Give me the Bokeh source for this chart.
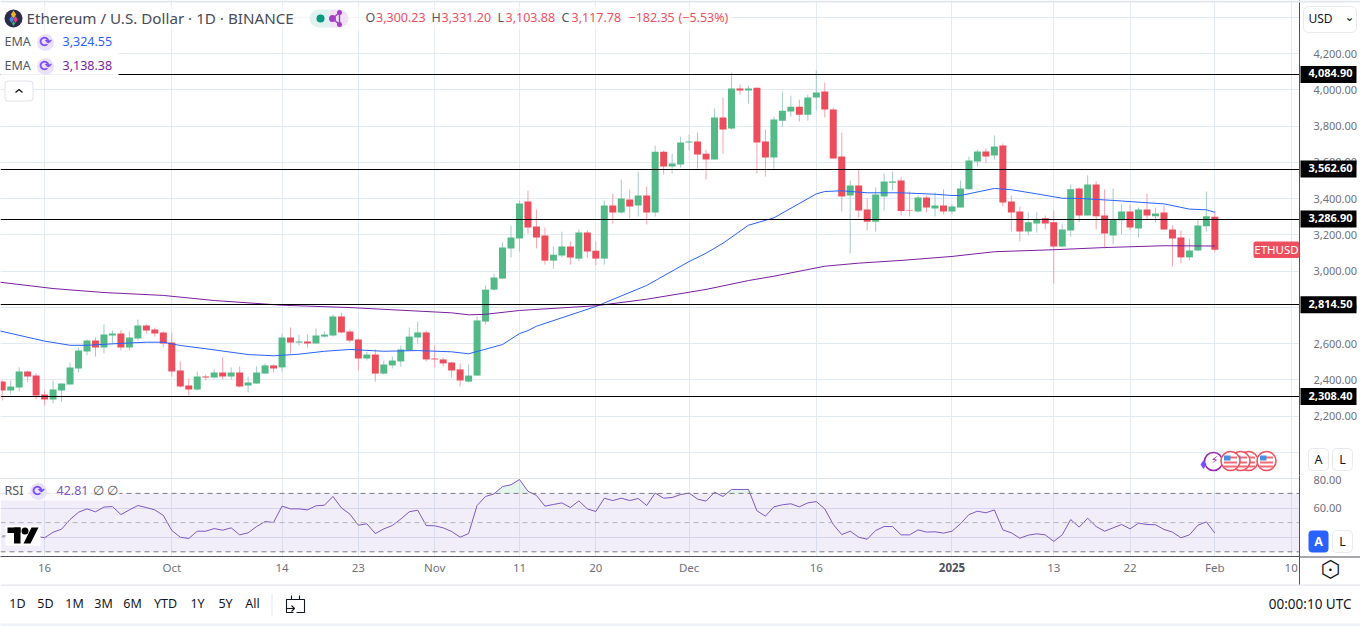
from bokeh.plotting import figure
from bokeh.layouts import column
from bokeh.models import Range1d, FixedTicker, Label, BoxAnnotation, Span, NumeralTickFormatter, Spacer
from bokeh.embed import file_html
from bokeh.resources import INLINE

FONT = "Noto Sans"
SYM = "DejaVu Sans"

# ---------- data: daily candles, 11 Sep 2024 .. 1 Feb 2025 ----------
opens = [2391,2342,2358,2446,2424,2320,2292,2342,2375,2463,2557,2617,2579,2645,2656,2579,2628,2700,2678,2662,
 2606,2452,2369,2347,2419,2413,2441,2419,2441,2369,2380,2435,2480,2469,2634,2606,2612,2601,2639,2645,2750,2667,2623,2518,2540,2435,2480,2502,2562,2634,2662,
 2518,2513,2496,2458,2391,2424,2722,2898,2959,3125,3180,3384,3246,3196,3058,3086,3136,3069,3213,3113,3069,3362,3323,3395,3362,3417,3323,3659,3577,3588,
 3709,3715,3648,3615,3847,3786,4007,3996,4012,3715,3626,3830,3880,3907,3863,3957,3990,3891,3632,3417,3472,3340,3273,3411,3488,3500,3335,3329,3406,3346,3362,
 3329,3351,3451,3605,3660,3638,3693,3384,3329,3219,3263,3291,3269,3136,3224,3456,3307,3478,3307,3197,3280,3329,3235,3340,3302,3324,3230,3186,3076,3114,3247,
 3300.23]
highs = [2397,2397,2469,2452,2435,2342,2397,2380,2496,2579,2623,2634,2706,2673,2673,2667,2733,2706,2689,2667,
 2662,2502,2408,2446,2430,2458,2524,2469,2474,2419,2474,2491,2485,2656,2689,2650,2650,2684,2667,2761,2772,2678,2628,2557,2568,2507,2529,2590,2689,2722,2673,
 2590,2524,2500,2491,2485,2750,2921,2987,3158,3251,3389,3444,3340,3240,3136,3218,3163,3229,3224,3163,3389,3428,3505,3450,3549,3466,3692,3665,3648,3742,
 3753,3764,3670,3896,3957,4095,4029,4023,4012,3781,3852,3990,3968,3946,3974,4106,4040,3902,3764,3499,3560,3400,3461,3538,3549,3517,3439,3417,3417,3434,3451,
 3371,3500,3632,3671,3677,3748,3704,3417,3357,3324,3324,3307,3335,3258,3478,3462,3528,3495,3451,3456,3368,3368,3351,3428,3351,3362,3252,3224,3180,3285,3439,
 3331.20]
lows = [2287,2320,2336,2386,2292,2259,2270,2281,2375,2441,2535,2529,2546,2595,2562,2562,2617,2656,2639,2579,
 2419,2358,2314,2342,2397,2408,2402,2402,2358,2331,2380,2435,2441,2446,2546,2590,2579,2601,2634,2639,2656,2606,2452,2507,2391,2430,2463,2474,2562,2601,2502,
 2469,2474,2413,2364,2386,2424,2705,2893,2959,3075,3108,3207,3125,3036,3014,3075,3036,3053,3075,3031,3036,3262,3317,3290,3301,3257,3301,3533,3538,3571,
 3665,3566,3505,3615,3648,3781,3974,3924,3538,3522,3566,3797,3852,3825,3830,3885,3847,3621,3329,3097,3295,3224,3218,3334,3444,3307,3302,3324,3324,3302,3313,
 3313,3351,3451,3577,3594,3616,3357,3219,3164,3197,3213,3230,2932,3131,3191,3269,3307,3230,3125,3147,3202,3224,3186,3280,3269,3230,3026,3043,3059,3109,3219,
 3103.88]
closes = [2342,2364,2446,2419,2314,2292,2347,2380,2469,2562,2617,2579,2650,2656,2579,2634,2700,2673,2656,2601,
 2446,2364,2347,2419,2413,2441,2419,2441,2364,2386,2441,2480,2463,2634,2606,2612,2601,2645,2650,2750,2662,2617,2518,2540,2435,2485,2507,2568,2639,2662,2513,
 2513,2491,2452,2397,2424,2728,2898,2965,3130,3185,3373,3240,3185,3058,3091,3136,3075,3213,3108,3069,3362,3323,3400,3356,3417,3323,3659,3577,3593,3709,
 3715,3643,3615,3847,3781,4007,3996,4007,3709,3626,3836,3885,3907,3863,3957,3985,3891,3621,3411,3472,3334,3273,3422,3494,3494,3331,3331,3406,3351,3362,3329,
 3357,3456,3610,3660,3632,3688,3379,3324,3219,3269,3285,3263,3136,3230,3451,3307,3478,3302,3208,3285,3329,3241,3340,3307,3318,3230,3180,3076,3114,3252,3302,
 3117.78]
assert len(opens) == len(highs) == len(lows) == len(closes) == 144, (len(opens), len(highs), len(lows), len(closes))

ema50_days = [-1,5,8,10,13,17,19,21,24,29,32,35,38,41,45,49,53,55,56,59,61,62,63,70,76,81,83,85,88,91,96,97,99,102,106,110,112,113,117,119,122,125,127,131,135,137,140,142,143]
ema50_vals = [2678,2614,2591,2591,2599,2608,2608,2590,2572,2540,2533,2542,2558,2568,2558,2562,2555,2544,2557,2595,2656,2672,2696,2805,2921,3053,3099,3154,3253,3294,3426,3439,3443,3432,3432,3424,3417,3417,3456,3449,3426,3402,3401,3390,3377,3371,3342,3338,3324.55]
ema200_days = [-1,6,12,19,25,33,41,53,55,57,61,70,76,83,88,91,97,101,106,112,117,124,130,137,143]
ema200_vals = [2943,2904,2882,2866,2838,2812,2799,2770,2759,2762,2783,2809,2845,2899,2948,2972,3027,3044,3059,3081,3107,3118,3130,3140,3138.38]

rsi = [40.7,41.2,43.4,41.8,40.7,39.6,43.4,45.5,52.1,57.1,59.4,57.4,60.6,61.0,55.5,58.7,61.7,60.3,58.7,54.9,
 44.6,40.0,39.1,44.1,44.1,45.9,44.8,46.4,41.6,43.0,47.3,50.7,50.1,61.3,59.4,59.4,58.7,61.5,61.9,67.9,60.1,55.8,48.2,49.2,42.5,45.7,48.0,52.4,57.4,58.5,48.0,
 47.8,46.4,43.9,40.0,42.5,61.7,67.9,69.7,74.7,75.9,79.5,71.5,68.6,61.3,62.4,63.5,60.3,64.9,59.4,57.6,66.7,65.1,66.7,65.1,66.5,61.7,70.2,66.7,67.2,69.2,
 70.2,66.1,64.7,70.8,67.9,72.7,72.7,72.7,58.1,54.4,60.8,62.2,62.9,60.8,63.5,64.4,59.4,48.7,41.8,44.1,40.0,38.6,44.6,47.3,47.3,41.6,41.6,45.0,43.5,43.7,42.8,
 44.1,49.2,55.5,57.8,56.7,58.7,45.0,43.0,39.3,41.4,42.3,41.6,37.1,41.6,52.1,46.9,53.0,47.3,44.1,46.4,48.7,45.7,49.6,48.7,48.5,45.3,43.5,39.6,41.6,48.2,50.5,
 42.81]
assert len(rsi) == 144, len(rsi)

hlines = [4084.90, 3562.60, 3286.90, 2814.50, 2308.40]
price_ticks = [4200,4000,3800,3600,3400,3200,3000,2800,2600,2400,2200]
price_grid = [4400] + price_ticks + [2000]
rsi_ticks = [80, 60]
rsi_grid = [80, 60, 40]
date_ticks = {5:"16",20:"Oct",33:"14",42:"23",51:"Nov",61:"11",70:"20",81:"Dec",96:"16",112:"",124:"13",133:"22",143:"Feb",152:"10"}
ranges_btn = [("1D",17),("5D",45),("1M",74),("3M",103),("6M",132),("YTD",165),("1Y",197),("5Y",225),("All",252)]

GRID = "#e2ebf1"
UP, DOWN = "#53b987", "#eb4d5c"
UPW, DOWNW = "#a3ccc9", "#f5a3ad"
AXISC = "#50535e"
TXT = "#6f727d"
DARK = "#131722"
days = list(range(len(opens)))
XR = (-0.2, 152.98)

def make(h, yrange, bottom=0):
    return figure(width=1360, height=h, x_range=Range1d(*XR), y_range=Range1d(*yrange),
                  output_backend="svg", toolbar_location=None, y_axis_location="right",
                  x_axis_location="below" if bottom else None,
                  min_border_left=0, min_border_right=61, min_border_top=0, min_border_bottom=bottom,
                  outline_line_color=None, background_fill_color="white", border_fill_color="white")

# transparent sheet over the whole page for the window furniture (measured in page pixels)
ov = figure(width=1360, height=626, x_range=Range1d(0, 1360), y_range=Range1d(626, 0),
            output_backend="svg", toolbar_location=None, x_axis_location=None, y_axis_location=None,
            min_border=0, outline_line_color=None, background_fill_color=None, border_fill_color=None,
            frame_align=False, styles={"position": "absolute", "left": "0px", "top": "0px"})
ov.grid.visible = False

def lab(x, y, text, size=12.5, color=DARK, align="left", font=FONT, style="normal"):
    ov.add_layout(Label(x=x, y=y - 1, text=text, text_font=font, text_font_size=f"{size}px", text_color=color,
                        text_align=align, text_baseline="middle", text_font_style=style))

def box(x0, y0, x1, y1, fill="white", alpha=1.0, line=None, radius=0):
    ov.add_layout(BoxAnnotation(left=x0, right=x1, top=y0, bottom=y1,
                                fill_color=fill, fill_alpha=alpha, line_color=line or "white",
                                line_alpha=1.0 if line else 0, border_radius=radius))

def dot(x, y, size, fill, line=None, marker="circle", lw=1):
    ov.scatter([x], [y], size=size, marker=marker, fill_color=fill, line_color=line, line_width=lw)

def pline(xs, ys, color, lw=1):
    ov.line(xs, ys, line_color=color, line_width=lw)

def rect(l, t, r, b, color, alpha=1.0):
    ov.quad(left=[l], right=[r], top=[t], bottom=[b], fill_color=color, fill_alpha=alpha, line_color=None)

# ---------- main price pane ----------
PMIN, PMAX = 1872.9, 4492.5
main = make(475, (PMIN, PMAX))
main.xgrid.ticker = FixedTicker(ticks=list(date_ticks))
main.ygrid.ticker = FixedTicker(ticks=price_grid)
main.xgrid.grid_line_color = GRID
main.ygrid.grid_line_color = GRID
ax = main.yaxis[0]
ax.ticker = FixedTicker(ticks=price_ticks)
ax.formatter = NumeralTickFormatter(format="0,0.00")
ax.major_tick_line_color = None
ax.minor_tick_line_color = None
ax.axis_line_color = AXISC
ax.major_label_text_color = TXT
ax.major_label_text_font = FONT
ax.major_label_text_font_size = "11px"
ax.major_label_standoff = 8

body_top = [max(a, b) for a, b in zip(opens, closes)]
body_bot = [min(a, b) for a, b in zip(opens, closes)]
up = [c >= o for o, c in zip(opens, closes)]
main.segment(days, highs, days, lows, line_width=1, line_color=[UPW if u else DOWNW for u in up])
main.vbar(days, top=body_top, bottom=body_bot, width=0.825, line_color=None,
          fill_color=[UP if u else DOWN for u in up])
main.line(ema50_days, ema50_vals, line_color="#2962ff", line_width=1)
main.line(ema200_days, ema200_vals, line_color="#7b1fa2", line_width=1)
main.hspan(y=hlines, line_color="black", line_width=1)

yp = lambda v: (PMAX - v) / 5.515

# ---------- RSI pane ----------
R_TOP = 60 + (507.5 - 475) / 1.46
R_BOT = 60 - (556 - 507.5) / 1.46
rp = make(109, (R_BOT, R_TOP), bottom=28)
rp.xgrid.ticker = FixedTicker(ticks=list(date_ticks))
rp.ygrid.ticker = FixedTicker(ticks=rsi_grid)
rp.xgrid.grid_line_color = GRID
rp.ygrid.grid_line_color = "#dfe3ef"
ry = rp.yaxis[0]
ry.ticker = FixedTicker(ticks=rsi_ticks)
ry.formatter = NumeralTickFormatter(format="0.00")
ry.major_tick_line_color = None
ry.minor_tick_line_color = None
ry.axis_line_color = AXISC
ry.major_label_text_color = TXT
ry.major_label_text_font = FONT
ry.major_label_text_font_size = "11px"
ry.major_label_standoff = 8
rx = rp.xaxis[0]
rx.ticker = FixedTicker(ticks=list(date_ticks))
rx.major_label_overrides = {k: v for k, v in date_ticks.items()}
rx.major_tick_line_color = None
rx.minor_tick_line_color = None
rx.axis_line_color = AXISC
rx.major_label_text_color = TXT
rx.major_label_text_font = FONT
rx.major_label_text_font_size = "11.5px"
rx.major_label_standoff = -3

rp.add_layout(BoxAnnotation(bottom=30, top=70, fill_color="#7e57c2", fill_alpha=0.1, line_alpha=0, level="underlay"))
rp.varea(days, y1=[70] * len(rsi), y2=[max(v, 70) for v in rsi], fill_color="#53b987", fill_alpha=0.15)
for lv, col in [(70, "#787b86"), (50, "#b2b5be"), (30, "#787b86")]:
    rp.add_layout(Span(location=lv, dimension="width", line_color=col, line_width=1, line_dash="5 4"))
rp.line(days, rsi, line_color="#7e57c2", line_width=1)

# ---------- furniture: legend ----------
rect(0, 30, 730, 6, "white", 0.6)
rect(0, 76, 118, 31, "white", 0.95)
dot(13, 18, 18, "#2b2b4b")
dot(13, 14, 8, "#f0b429", marker="diamond")
dot(11, 19, 7, "#3f8fdc", marker="diamond")
dot(15, 19, 7, "#e0457b", marker="diamond")
dot(13, 23, 5, "#36b37e", marker="diamond")
lab(26, 18, "Ethereum / U.S. Dollar · 1D · BINANCE", 15.2, "#4a4c57")
dot(318, 18, 18, "#e0f2ef")
rect(318, 27, 329, 9, "#e0f2ef")
dot(339, 18, 18, "#f0e1f6")
rect(329, 27, 339, 9, "#f0e1f6")
dot(320, 18, 8, "#089981")
pline([339, 332, 339, 339], [12, 18, 24, 12], "#a23fc4", 1.4)
for nx, ny, ns in [(339, 12, 5), (332, 18, 7), (339, 24, 5)]:
    dot(nx, ny, ns, "#a23fc4")
red = "#f0505f"
for t, x, c in [("O",365,"#55575f"),("3,300.23",375.5,red),("H",431,"#55575f"),("3,331.20",441,red),
                ("L",497,"#55575f"),("3,103.88",505,red),("C",561,"#55575f"),("3,117.78",571,red),
                ("−182.35",628,red),("(−5.53%)",678,red)]:
    lab(x, 18, t, 12.5, c)
for yy, val, col in [(42, "3,324.55", "#2962ff"), (66, "3,138.38", "#7b1fa2")]:
    lab(4, yy, "EMA", 12.5, "#55575f")
    dot(45, yy, 17, "#e9e2fb")
    lab(45, yy, "⟳", 15, "#7c4dff", align="center", font=SYM, style="bold")
    lab(62, yy, val, 12.5, col)
rect(4.5, 100.5, 32.5, 80.5, "white")
pline([15, 18.5, 22], [92, 89, 92], DARK, 1.3)
box(4.5, 80.5, 32.5, 100.5, "white", 0.0, line="#e0e3eb", radius=3)

# top rule
box(0, 0, 1360, 2, "#e3e6ec")

# price tags
for h in hlines:
    box(1300, yp(h) - 8.5, 1356, yp(h) + 8.5, "black")
    lab(1352, yp(h), f"{h:,.2f}", 11, "white", align="right", style="bold")
box(1253, 241, 1299, 257.5, "#ee4f5e", radius=2)
lab(1276, 249.5, "ETHUSD", 11.5, "white", align="center")
# USD button
box(1303, 6, 1356, 32, "white", line="#e8eaef", radius=5)
lab(1308, 19, "USD", 12, DARK)
lab(1349, 17, "⌄", 12, DARK, align="center", font=SYM)
# scale buttons
box(1308, 448, 1328, 470, "white", line="#e8eaef", radius=4)
lab(1318, 459.5, "A", 12.5, DARK, align="center")
box(1332, 448, 1352, 470, "white", line="#e8eaef", radius=4)
lab(1342, 459.5, "L", 12.5, DARK, align="center")
# events
dot(1213, 461, 18, "white", "#9c27b0", lw=1.5)
dot(1203, 464, 9, "#7c4dff", marker="diamond")
lab(1214, 461, "⚡", 11, "#9c27b0", align="center", font=SYM)
for cx in [1248, 1240, 1230, 1266]:
    dot(cx, 460.5, 19, "white", "#f0505f", lw=1.6)
    for sy in [456, 461, 465]:
        rect(cx - 6.5, sy + 2, cx + 6.5, sy, "#f36a77")
    rect(cx - 6.5, 460, cx, 455, "#4a90e2")

# RSI legend
rect(0, 500, 119, 483, "white", 0.75)
lab(4, 491, "RSI", 12.5, "#55575f")
dot(38, 491, 17, "#e9e2fb")
lab(38, 491, "⟳", 15, "#7c4dff", align="center", font=SYM, style="bold")
lab(56, 491, "42.81", 12.5, "#7e57c2")
lab(98, 491, "∅", 12.5, "#55575f", align="center")
lab(112, 491, "∅", 12.5, "#55575f", align="center")

# watermark logo
rect(5, 545, 40, 525, "white")
rect(7, 532.5, 20, 527, "black")
rect(13.5, 543, 20, 527, "black")
dot(24.5, 530.5, 7, "black")
ov.patch([31, 38, 30, 23], [527, 527, 543, 543], fill_color="black", line_color=None)

# scale buttons and time-axis corner
box(1308, 530, 1328, 552, "#2962ff", radius=4)
lab(1318, 541.5, "A", 12.5, "white", align="center", style="bold")
box(1332, 530, 1352, 552, "white", line="#e8eaef", radius=4)
lab(1342, 541.5, "L", 12.5, DARK, align="center")
box(1299, 556, 1360, 557, AXISC)
box(1298.5, 556, 1299.5, 584, AXISC)
lab(951.5, 567.5, "2025", 11.5, "#50535e", align="center", style="bold")
lab(1330, 569, "⬡", 23, DARK, align="center", font=SYM)
lab(1330, 570, "•", 9, DARK, align="center", font=SYM)

# bottom bar
rect(0, 585.2, 1360, 584, "#e3e6ec")
rect(0, 626, 1360, 623, "#eff2f7")
for t, x in ranges_btn:
    lab(x, 604, t, 12.5, DARK, align="center")
rect(271, 615, 272, 593, "#e6e8ee")
pline([293, 286, 286, 304, 304, 296], [612, 612, 599, 599, 612, 612], DARK, 1.1)
pline([291, 291], [595, 599], DARK, 1.1)
pline([299, 299], [595, 599], DARK, 1.1)
pline([286, 294], [608, 608], DARK, 1.1)
pline([291, 294, 291], [605, 608, 611], DARK, 1.1)
lab(1351, 604, "00:00:10 UTC", 13.5, DARK, align="right")

page = column(main, rp, Spacer(width=1360, height=42), ov, spacing=0,
              styles={"position": "absolute", "left": "0px", "top": "0px"})
open("out.html", "w").write(file_html(page, INLINE))
